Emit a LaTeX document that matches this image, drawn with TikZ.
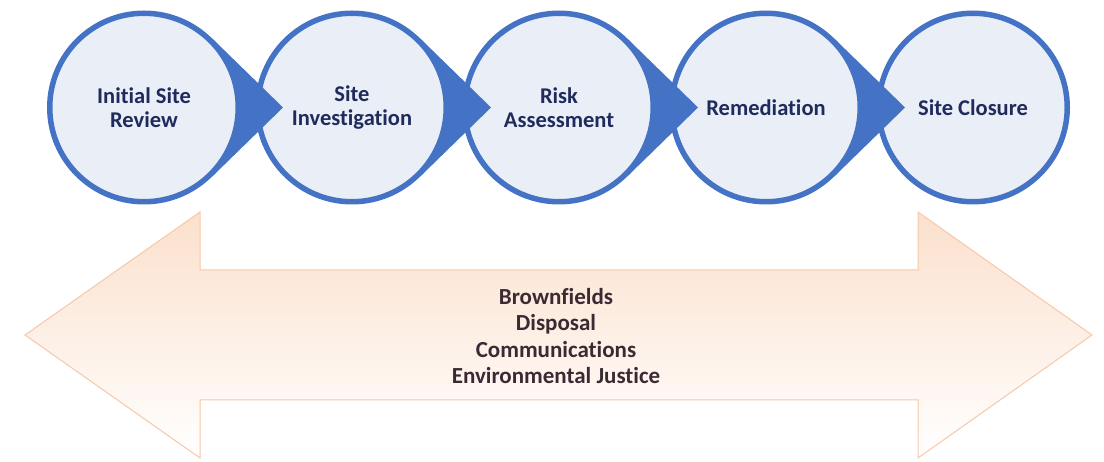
\documentclass[tikz,border=0pt]{standalone}
\usepackage{fontspec}
\setmainfont[RawFeature={-liga;-dlig;-clig}]{Carlito}
\usetikzlibrary{calc}
\definecolor{stepblue}{HTML}{4472C4}
\definecolor{steplight}{HTML}{E9EEF7}
\definecolor{steptext}{HTML}{1F2B5C}
\definecolor{peach}{HTML}{FBE0CC}
\definecolor{peachline}{HTML}{F6C8A8}
\definecolor{browntext}{HTML}{3B2A33}
\tikzset{
  stepcircle/.style={circle, draw=stepblue, line width=5.5pt, fill=steplight,
    minimum size=188.5pt, inner sep=0pt, text=steptext, font=\bfseries\fontsize{22.5}{24}\selectfont, align=center},
  steptip/.style={fill=stepblue, draw=none},
  bandtext/.style={text=browntext, font=\bfseries\fontsize{23}{26.5}\selectfont, align=center}
}
\begin{document}
\begin{tikzpicture}[x=1pt,y=1pt]
\useasboundingbox (0,0) rectangle (1104,461);
% double arrow band
\path[draw=peachline, line width=1pt, top color=peach, bottom color=white]
  (25,126) -- (200,249) -- (200,191) -- (918,191) -- (918,249) -- (1092,126)
  -- (918,3) -- (918,61) -- (200,61) -- (200,3) -- cycle;
\node[bandtext] (band) at (556,125) {Brownfields\\Disposal\\Communications\\Environmental Justice};
% steps, right to left
\node[stepcircle] (c5) at (973,353.5) {Site Closure};
\coordinate (t4) at (905,353.5);
\path[steptip] (t4) -- ($(766,353.5)+(67.7,69.5)$) -- (766,353.5) -- ($(766,353.5)+(67.7,-69.5)$) -- cycle;
\node[stepcircle] (c4) at (766,353.5) {Remediation};
\coordinate (t3) at (698,353.5);
\path[steptip] (t3) -- ($(559,353.5)+(67.7,69.5)$) -- (559,353.5) -- ($(559,353.5)+(67.7,-69.5)$) -- cycle;
\node[stepcircle] (c3) at (559,353.5) {Risk\\Assessment};
\coordinate (t2) at (491,353.5);
\path[steptip] (t2) -- ($(352,353.5)+(67.7,69.5)$) -- (352,353.5) -- ($(352,353.5)+(67.7,-69.5)$) -- cycle;
\node[stepcircle] (c2) at (352,353.5) {Site\\Investigation};
\coordinate (t1) at (283,353.5);
\path[steptip] (t1) -- ($(144,353.5)+(67.7,69.5)$) -- (144,353.5) -- ($(144,353.5)+(67.7,-69.5)$) -- cycle;
\node[stepcircle] (c1) at (144,353.5) {Initial Site\\Review};
\end{tikzpicture}
\end{document}
